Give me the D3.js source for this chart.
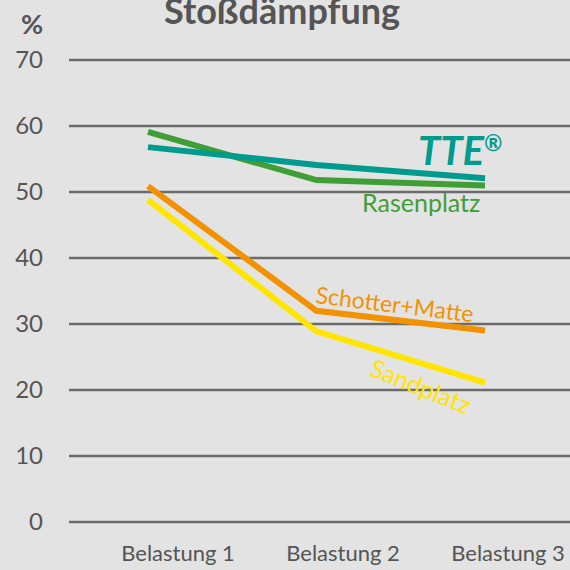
<!DOCTYPE html>
<html>
<head>
<meta charset="utf-8">
<script src="https://cdn.jsdelivr.net/npm/d3@7"></script>
<style>
  body { margin: 0; background: #e3e3e3; }
  svg { display: block; font-family: Lato, "Open Sans", sans-serif; }
</style>
</head>
<body>
<div id="canvas"></div>
<script>
"use strict";

// categories and series
const categories = ["Belastung 1", "Belastung 2", "Belastung 3"];
const tteValues = [56.8, 54.1, 52.1];
const rasenValues = [59.1, 51.8, 51.0];
const schotterValues = [50.9, 32.0, 29.0];
const sandValues = [48.8, 28.9, 21.1];
const yTicks = [0, 10, 20, 30, 40, 50, 60, 70];

const series = [
  { name: "Rasenplatz", values: rasenValues, color: "#3f9e35" },
  { name: "TTE", values: tteValues, color: "#009b8f" },
  { name: "Sandplatz", values: sandValues, color: "#ffe500" },
  { name: "Schotter+Matte", values: schotterValues, color: "#f39200" }
];

const svgWidth = 570;
const svgHeight = 570;
const textColor = "#555555";

const svg = d3.select("#canvas")
  .append("svg")
  .attr("width", svgWidth)
  .attr("height", svgHeight);

svg.append("rect")
  .attr("width", svgWidth)
  .attr("height", svgHeight)
  .attr("fill", "#e3e3e3");

// scales
const xScale = d3.scalePoint()
  .domain(categories)
  .range([148, 485]);

// labels sit a bit right of the data points
const labelScale = d3.scalePoint()
  .domain(categories)
  .range([178, 508]);

const yScale = d3.scaleLinear()
  .domain([0, 70])
  .range([522, 60]);

// grid lines
svg.append("g")
  .selectAll("line")
  .data(yTicks)
  .enter()
  .append("line")
  .attr("x1", 69)
  .attr("x2", svgWidth)
  .attr("y1", d => yScale(d))
  .attr("y2", d => yScale(d))
  .attr("stroke", "#6b6b6b")
  .attr("stroke-width", 2.5);

// y tick labels
svg.append("g")
  .selectAll("text")
  .data(yTicks)
  .enter()
  .append("text")
  .attr("x", 43)
  .attr("y", d => yScale(d) + 8)
  .attr("text-anchor", "end")
  .attr("font-size", "24px")
  .attr("fill", textColor)
  .text(d => d);

// x labels
svg.append("g")
  .selectAll("text")
  .data(categories)
  .enter()
  .append("text")
  .attr("x", d => labelScale(d))
  .attr("y", 561)
  .attr("text-anchor", "middle")
  .attr("font-size", "22px")
  .attr("fill", textColor)
  .text(d => d);

// title and unit
svg.append("text")
  .attr("x", 282)
  .attr("y", 24)
  .attr("text-anchor", "middle")
  .attr("font-size", "36px")
  .attr("font-weight", "bold")
  .attr("fill", textColor)
  .text("Stoßdämpfung");

svg.append("text")
  .attr("x", 32)
  .attr("y", 34)
  .attr("text-anchor", "middle")
  .attr("font-size", "27px")
  .attr("font-weight", "bold")
  .attr("fill", textColor)
  .text("%");

// lines
const line = d3.line()
  .x((d, i) => xScale(categories[i]))
  .y(d => yScale(d));

svg.append("g")
  .selectAll("path")
  .data(series)
  .enter()
  .append("path")
  .attr("d", d => line(d.values))
  .attr("fill", "none")
  .attr("stroke", d => d.color)
  .attr("stroke-width", 6);

// series labels
const tte = svg.append("text")
  .attr("x", 418)
  .attr("y", 165)
  .attr("font-size", "40px")
  .attr("font-weight", "bold")
  .attr("font-style", "italic")
  .attr("fill", "#009b8f");
tte.append("tspan").text("TTE");
tte.append("tspan")
  .attr("font-size", "22px")
  .attr("dy", -14)
  .text("®");

svg.append("text")
  .attr("x", 362)
  .attr("y", 212)
  .attr("font-size", "25px")
  .attr("fill", "#3f9e35")
  .text("Rasenplatz");

svg.append("text")
  .attr("transform", "translate(315,303) rotate(7)")
  .attr("font-size", "23px")
  .attr("fill", "#f39200")
  .text("Schotter+Matte");

svg.append("text")
  .attr("transform", "translate(368,375) rotate(22)")
  .attr("font-size", "25px")
  .attr("fill", "#ffe500")
  .text("Sandplatz");
</script>
</body>
</html>
